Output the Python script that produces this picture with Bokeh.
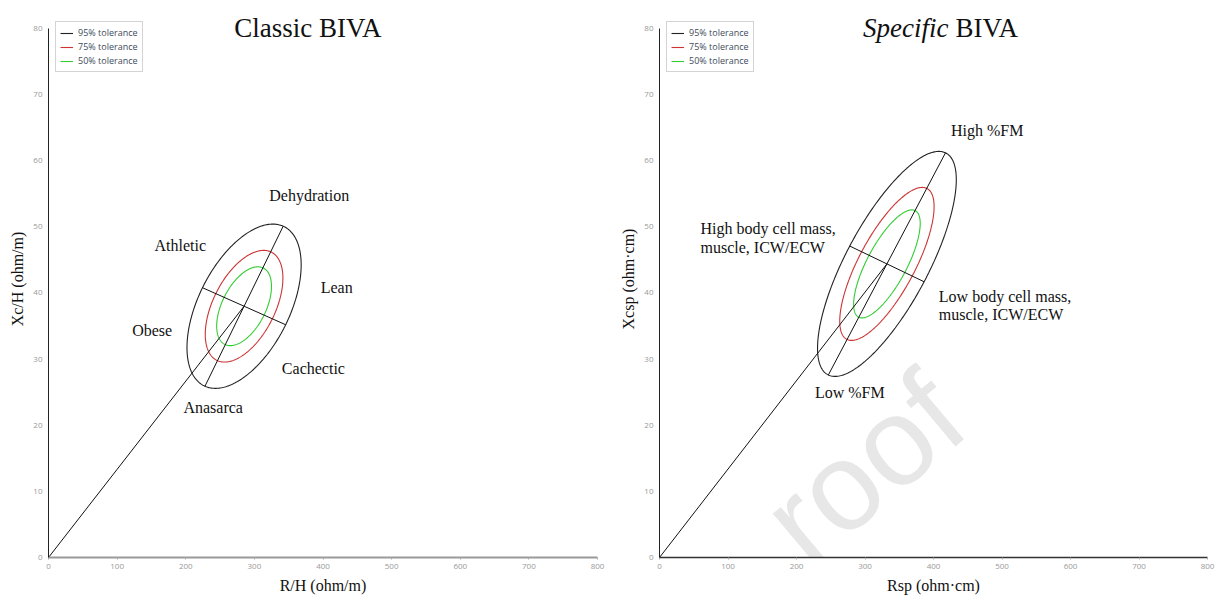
import numpy as np
from bokeh.plotting import figure
from bokeh.layouts import row
from bokeh.models import Range1d, FixedTicker, Legend, LegendItem
from bokeh.core.properties import value
from bokeh.embed import file_html
from bokeh.resources import INLINE

# ---------------- data ----------------
tolerance_labels = ["95% tolerance", "75% tolerance", "50% tolerance"]
tolerance_scale = [1.0, 0.68, 0.48]
tolerance_colors = ["#222222", "#cc3333", "#33cc33"]

# Classic BIVA: centre and conjugate semi-diameters (R/H, Xc/H)
classic_center = [285.0, 38.0]
classic_major = [57.0, 12.1]
classic_minor = [60.6, -2.8]

# Specific BIVA: centre and conjugate semi-diameters (Rsp, Xcsp)
specific_center = [332.0, 44.4]
specific_major = [85.5, 16.8]
specific_minor = [54.3, -2.7]

x_ticks = [0, 100, 200, 300, 400, 500, 600, 700, 800]
y_ticks = [0, 10, 20, 30, 40, 50, 60, 70, 80]

classic_labels = ["Dehydration", "Athletic", "Lean", "Obese", "Cachectic", "Anasarca"]
classic_label_x = [380, 192, 420, 151, 386, 240]
classic_label_y = [54.8, 47.2, 40.8, 34.3, 28.6, 22.7]

specific_center_labels = ["High %FM", "Low %FM"]
specific_center_label_x = [478.4, 277.8]
specific_center_label_y = [64.5, 24.9]
specific_left_labels = ["High body cell mass,", "muscle, ICW/ECW", "Low body cell mass,", "muscle, ICW/ECW"]
specific_left_label_x = [59.9, 59.9, 407.8, 407.8]
specific_left_label_y = [49.7, 46.85, 39.5, 36.8]

SERIF = "Liberation Serif"
SANS = "Open Sans"
Y_TOP = 84.234   # headroom above 80 so titles and legend sit inside the frame


def make_panel(center, major, minor, xlabel, ylabel, width, bl, br, xaxis_color, xaxis_width):
    p = figure(width=width, height=603, output_backend="svg", toolbar_location=None,
               x_range=Range1d(0, 800), y_range=Range1d(0, Y_TOP),
               min_border_left=bl, min_border_right=br, min_border_top=0, min_border_bottom=46)
    p.grid.visible = False
    p.outline_line_color = None
    p.background_fill_color = "white"
    p.border_fill_color = "white"

    t = np.linspace(0, 2 * np.pi, 300)
    items = []
    for lab, s, c in zip(tolerance_labels, tolerance_scale, tolerance_colors):
        xs = center[0] + s * (major[0] * np.cos(t) + minor[0] * np.sin(t))
        ys = center[1] + s * (major[1] * np.cos(t) + minor[1] * np.sin(t))
        r = p.line(xs, ys, line_color=c, line_width=1.1)
        items.append(LegendItem(label=lab, renderers=[r]))

    ax_col = "#111111"
    p.line([0, center[0]], [0, center[1]], line_color=ax_col, line_width=1)
    p.line([center[0] - major[0], center[0] + major[0]],
           [center[1] - major[1], center[1] + major[1]], line_color=ax_col, line_width=1)
    p.line([center[0] - minor[0], center[0] + minor[0]],
           [center[1] - minor[1], center[1] + minor[1]], line_color=ax_col, line_width=1)

    leg = Legend(items=items, location=(7, 485), orientation="vertical",
                 label_text_font=SANS, label_text_font_size="9px", label_text_color="#3d4b5c",
                 glyph_width=13, glyph_height=12, label_height=12, label_standoff=5,
                 spacing=1, padding=4, margin=0,
                 border_line_color="#aaaaaa", border_line_width=1,
                 background_fill_color="white", background_fill_alpha=1)
    p.add_layout(leg)

    for ax in (p.xaxis[0], p.yaxis[0]):
        ax.major_label_text_font = SANS
        ax.major_label_text_font_size = "8px"
        ax.major_label_text_color = "#999999"
        ax.minor_tick_line_color = None
        ax.axis_label_text_font = SERIF
        ax.axis_label_text_font_size = "16px"
        ax.axis_label_text_font_style = "normal"
        ax.axis_label_text_color = "#111111"
    p.xaxis.ticker = FixedTicker(ticks=x_ticks)
    p.yaxis.ticker = FixedTicker(ticks=y_ticks)
    p.yaxis.bounds = (0, 80)
    p.xaxis.axis_label = xlabel
    p.yaxis.axis_label = ylabel
    p.xaxis.axis_line_color = xaxis_color
    p.xaxis.axis_line_width = xaxis_width
    p.xaxis.major_tick_line_color = "#aaaaaa"
    p.xaxis.major_tick_in = 0
    p.xaxis.major_tick_out = 2
    p.xaxis.major_label_standoff = 4
    p.xaxis.axis_label_standoff = 5
    p.yaxis.axis_line_color = "#222222"
    p.yaxis.axis_line_width = 1
    p.yaxis.major_tick_line_color = None
    p.yaxis.major_tick_in = 0
    p.yaxis.major_tick_out = 0
    p.yaxis.major_label_standoff = 6
    p.yaxis.axis_label_standoff = 4
    return p


left = make_panel(classic_center, classic_major, classic_minor, "R/H (ohm/m)", "Xc/H (ohm/m)",
                  610, 48, 13, "#999999", 2)
left.text(classic_label_x, classic_label_y, text=classic_labels, text_font=value(SERIF),
          text_font_size="16px", text_align="center", text_baseline="middle", text_color="#111111")
left.text([378], [80.15], text=["Classic BIVA"], text_font=value(SERIF), text_font_size="27px",
          text_align="center", text_baseline="alphabetic", text_color="#111111")

right = make_panel(specific_center, specific_major, specific_minor, "Rsp (ohm·cm)", "Xcsp (ohm·cm)",
                   605, 49, 8, "#333333", 1.5)
# faint watermark of the source document
right.text([177], [3.2], text=["roof"], text_font=value("Liberation Sans"), text_font_size="125px",
           angle=40, angle_units="deg", text_color="#888888", text_alpha=0.2,
           text_baseline="alphabetic", text_align="left", level="underlay")
right.text(specific_center_label_x, specific_center_label_y, text=specific_center_labels,
           text_font=value(SERIF), text_font_size="16px", text_align="center",
           text_baseline="middle", text_color="#111111")
right.text(specific_left_label_x, specific_left_label_y, text=specific_left_labels,
           text_font=value(SERIF), text_font_size="16px", text_align="left",
           text_baseline="middle", text_color="#111111")
right.text([422], [80.15], text=["Specific"], text_font=value(SERIF), text_font_size="27px",
           text_font_style="italic", text_align="right", text_baseline="alphabetic",
           text_color="#111111")
right.text([432], [80.15], text=["BIVA"], text_font=value(SERIF), text_font_size="27px",
           text_align="left", text_baseline="alphabetic", text_color="#111111")

layout = row(left, right)
open("out.html", "w").write(file_html(layout, INLINE))
